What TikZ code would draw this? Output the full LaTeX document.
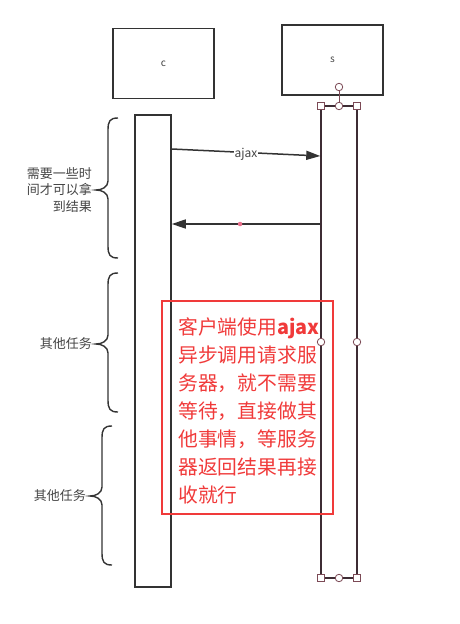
\documentclass[tikz,border=0pt]{standalone}
\usepackage{fontspec}
\setmainfont{Noto Sans CJK SC}
\usetikzlibrary{arrows.meta}

\definecolor{trait}{HTML}{333333}
\definecolor{violet}{HTML}{3E2C34}
\definecolor{poignee}{HTML}{7C4A56}
\definecolor{gris}{HTML}{444444}
\definecolor{rouge}{HTML}{F03A3A}
\definecolor{rose}{HTML}{E8708C}

\tikzset{
  boite/.style={draw=trait, line width=1.6pt, minimum width=101pt, minimum height=70pt, inner sep=0pt, font=\fontsize{10}{12}\selectfont, text=gris},
  barre/.style={draw=#1, line width=1.5pt, minimum width=36pt, minimum height=472pt, inner sep=0pt},
  carre/.style={draw=poignee, fill=white, line width=0.8pt, minimum size=6.5pt, inner sep=0pt},
  rond/.style={draw=poignee, fill=white, line width=0.8pt, circle, minimum size=7.5pt, inner sep=0pt},
  fleche/.style={draw=trait, line width=1.5pt, -{Triangle[length=14pt,width=9pt]}},
  etiq/.style={font=\fontsize{13}{16.5}\selectfont, text=gris, align=right, inner sep=0pt},
  accolade/.style={draw=trait, line width=1.4pt}
}

\begin{document}
\begin{tikzpicture}[x=1pt,y=-1pt]
\useasboundingbox (0,0) rectangle (460,624);

% Boites du haut
  \node[boite] (c) at (163.5,63.5) {c};
  \node[boite] (s) at (332.5,60) {s};

% Lignes de vie
  \node[barre=trait] (cbar) at (153,351) {};
  \node[barre=violet] (sbar) at (339,342) {};

% Poignees
  \node[rond] (srot) at (339,87) {};
  \node[rond] (shaut) at (339,106) {};
  \draw[poignee, line width=0.8pt] (srot) -- (shaut);
  \node[rond] (sbas) at (339,578) {};
  \foreach \x in {321,357} {
    \node[carre] (hh\x) at (\x,106) {};
    \node[carre] (hb\x) at (\x,578) {};
    \node[rond] (hm\x) at (\x,342) {};
  }

% Fleches
  \draw[fleche] (cbar.east |- 0,149) -- node[fill=white, inner sep=1pt, text=gris, font=\fontsize{12}{14}\selectfont, yshift=-1.5pt] (lajax) {ajax} (sbar.west |- 0,156);
  \draw[fleche] (sbar.west |- 0,224) -- node[circle, fill=rose, inner sep=0pt, minimum size=4.5pt, pos=0.54] (pt) {} (cbar.east |- 0,224);

% Accolades
  \foreach \xl/\yt/\yb/\ym/\texte [count=\i] in {108/118/258/190/{需要一些时\\间才可以拿\\到结果}, 108/273/412/344/{其他任务}, 102/426/565/496/{其他任务}} {
    \draw[accolade] (\xl+10,\yt) .. controls (\xl+2,\yt) and (\xl,\yt+3) .. (\xl,\yt+12) -- (\xl,\ym-9)
      .. controls (\xl,\ym-3) and (\xl-6,\ym) .. (\xl-12,\ym)
      .. controls (\xl-6,\ym) and (\xl,\ym+3) .. (\xl,\ym+9) -- (\xl,\yb-12)
      .. controls (\xl,\yb-3) and (\xl+2,\yb) .. (\xl+10,\yb);
    \node[etiq, anchor=east] (acc\i) at (\xl-16,\ym) {\texte};
  }

% Remarque en rouge
  \node[draw=rouge, line width=2.4pt, minimum width=171pt, minimum height=213pt, inner sep=0pt] (note) at (247.5,407.5) {};
  \node[anchor=north west, inner sep=0pt, align=left, text=rouge, font=\fontsize{19.8}{28}\selectfont] (texte) at (178,317)
    {客户端使用\textbf{ajax}\\异步调用请求服\\务器，就不需要\\等待，直接做其\\他事情，等服务\\器返回结果再接\\收就行};
\end{tikzpicture}
\end{document}
